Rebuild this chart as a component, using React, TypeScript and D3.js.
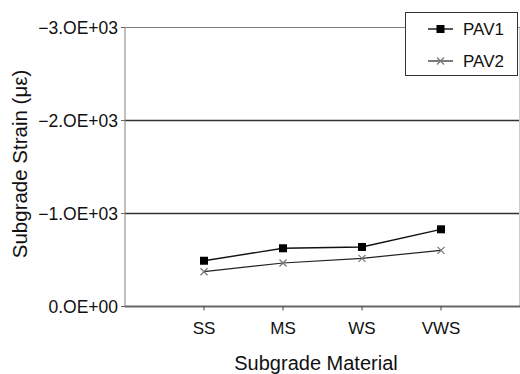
import React from "react";
import * as d3 from "d3";

const categories = ["SS", "MS", "WS", "VWS"];
const pav1 = [-492, -626, -640, -830];
const pav2 = [-374, -468, -518, -604];
const yTicks = [0, -1000, -2000, -3000];
const yTickLabels = ["0.OE+00", "\u22121.OE+03", "\u22122.OE+03", "\u22123.OE+03"];

export default function App() {
  const W = 520, H = 374;
  const x = d3.scaleLinear().domain([0, categories.length + 1]).range([125, 520]);
  const y = d3.scaleLinear().domain([0, -3000]).range([306.5, 27.5]);
  const line = d3.line<number>().x((_, i) => x(i + 1)).y((d) => y(d));
  const font = "Arial, 'Liberation Sans', sans-serif";
  return (
    <svg width={W} height={H} style={{ position: "absolute", left: 0, top: 0, background: "#fff" }} fontFamily={font}>
      <rect x={0} y={0} width={W} height={H} fill="#fff" />
      {yTicks.slice(1).map((t) => (
        <line key={t} x1={125} x2={520} y1={y(t)} y2={y(t)} stroke={t === -3000 ? "#808080" : "#333"} strokeWidth={t === -3000 ? 1 : 1.3} />
      ))}
      <line x1={125} x2={125} y1={y(-3000)} y2={y(0)} stroke="#808080" strokeWidth={1} />
      <line x1={519.5} x2={519.5} y1={y(-3000)} y2={y(0)} stroke="#ccc" strokeWidth={1} />
      <line x1={125} x2={520} y1={y(0)} y2={y(0)} stroke="#666" strokeWidth={1.8} />
      {yTicks.map((t, i) => (
        <g key={t}>
          <line x1={121} x2={125} y1={y(t)} y2={y(t)} stroke="#666" />
          <text x={118} y={y(t)} dy="0.36em" textAnchor="end" fontSize={17.5} fill="#111">{yTickLabels[i]}</text>
        </g>
      ))}
      {categories.map((c, i) => (
        <g key={c}>
          <line x1={x(i + 1)} x2={x(i + 1)} y1={y(0)} y2={y(0) + 4} stroke="#444" />
          <text x={x(i + 1)} y={334} textAnchor="middle" fontSize={17} fill="#111">{c}</text>
        </g>
      ))}
      <text x={316} y={370} textAnchor="middle" fontSize={20} fill="#111">Subgrade Material</text>
      <text transform={`translate(27,164) rotate(-90)`} textAnchor="middle" fontSize={20.5} fill="#111">Subgrade Strain (με)</text>
      <path d={line(pav2) || ""} fill="none" stroke="#222" strokeWidth={1.2} />
      <path d={line(pav1) || ""} fill="none" stroke="#111" strokeWidth={1.4} />
      {pav1.map((v, i) => (
        <rect key={i} x={x(i + 1) - 4} y={y(v) - 4} width={8} height={8} fill="#000" />
      ))}
      {pav2.map((v, i) => (
        <g key={i} stroke="#777" strokeWidth={1.2}>
          <line x1={x(i + 1) - 3.5} x2={x(i + 1) + 3.5} y1={y(v) - 3.5} y2={y(v) + 3.5} />
          <line x1={x(i + 1) - 3.5} x2={x(i + 1) + 3.5} y1={y(v) + 3.5} y2={y(v) - 3.5} />
        </g>
      ))}
      <rect x={405.5} y={12.5} width={112} height={63} fill="#fff" stroke="#333" strokeWidth={1} />
      <line x1={428} x2={453} y1={29} y2={29} stroke="#111" strokeWidth={1.4} />
      <rect x={436.5} y={25} width={8} height={8} fill="#000" />
      <text x={463} y={29} dy="0.36em" fontSize={17} fill="#111">PAV1</text>
      <line x1={428} x2={453} y1={61} y2={61} stroke="#222" strokeWidth={1.2} />
      <g stroke="#777" strokeWidth={1.2}>
        <line x1={437} x2={444} y1={57.5} y2={64.5} />
        <line x1={437} x2={444} y1={64.5} y2={57.5} />
      </g>
      <text x={463} y={61} dy="0.36em" fontSize={17} fill="#111">PAV2</text>
    </svg>
  );
}
